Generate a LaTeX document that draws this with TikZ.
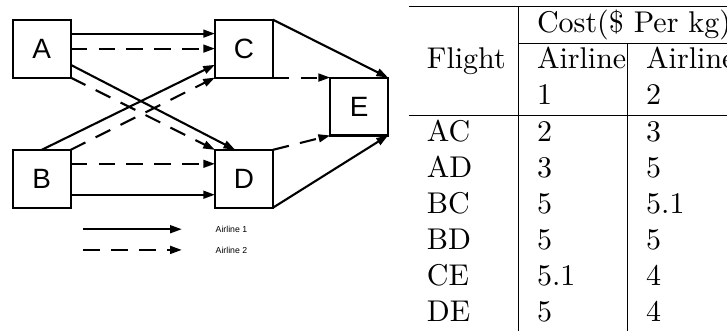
\documentclass[tikz,border=0pt]{standalone}
\usepackage{fontspec}
\usepackage{array}
\usetikzlibrary{arrows.meta,positioning}
\newfontfamily\diagfont{Liberation Sans}

\begin{document}
\begin{tikzpicture}[x=1pt,y=1pt,node distance=24.1pt and 48.1pt,
  box/.style={draw,line width=0.7pt,minimum size=19.3pt,inner sep=0pt,outer sep=0pt,font=\diagfont\fontsize{9.3}{11}\selectfont},
  air1/.style={line width=0.7pt,-{Triangle[length=3.9pt,width=2.6pt]}},
  air2/.style={air1,dash pattern=on 5.5pt off 3.8pt},
  legtext/.style={font=\diagfont\fontsize{2.9}{3.5}\selectfont,inner sep=0pt}]
\useasboundingbox (0,0) rectangle (242.33,-110);
\clip (0,0) rectangle (242.33,-110);
\node[box] (A) at (13.9,-16.2) {A};
\node[box,below=of A] (B) {B};
\node[box,right=of A] (C) {C};
\node[box,right=of B] (D) {D};
\node[box,below right=0pt and 19.1pt of C.south east] (E) {E};
\draw[air1] ([yshift=5pt]A.east) -- ([yshift=5pt]C.west);
\draw[air2] (A.east) -- (C.west);
\draw[air1] ([yshift=-5.4pt]A.east) -- ([xshift=-2.9pt]D.north);
\draw[air2] (A.south east) -- (D.north west);
\draw[air1] (B.north) -- ([yshift=-5.4pt]C.west);
\draw[air2] (B.north east) -- (C.south west);
\draw[air2] ([yshift=5pt]B.east) -- ([yshift=5pt]D.west);
\draw[air1] ([yshift=-5.3pt]B.east) -- ([yshift=-5.3pt]D.west);
\draw[air1] (C.north east) -- (E.north east);
\draw[air2] (C.south east) -- (E.north west);
\draw[air2] (D.north east) -- (E.south west);
\draw[air1] (D.south east) -- (E.south east);
\coordinate (s1) at (27.8,-76.4);
\coordinate[right=32.8pt of s1] (e1);
\coordinate[below=6.9pt of s1] (s2);
\coordinate[right=32.8pt of s2] (e2);
\draw[air1] (s1) -- (e1);
\draw[air2] (s2) -- (e2);
\node[legtext,right=11.1pt of e1] (t1) {Airline 1};
\node[legtext,right=11.1pt of e2] (t2) {Airline 2};
\node[anchor=north west,inner sep=0pt] (cost) at (136.1,-1.7) {%
\begin{tabular}{p{24.3pt}|p{24pt}|p{24pt}}
\hline
 & \multicolumn{2}{c}{Cost(\$ Per kg)}\\ \cline{2-3}
Flight & Airline 1 & Airline 2\\ \hline
AC & 2 & 3\\
AD & 3 & 5\\
BC & 5 & 5.1\\
BD & 5 & 5\\
CE & 5.1 & 4\\
DE & 5 & 4\\
\end{tabular}};
\end{tikzpicture}
\end{document}
